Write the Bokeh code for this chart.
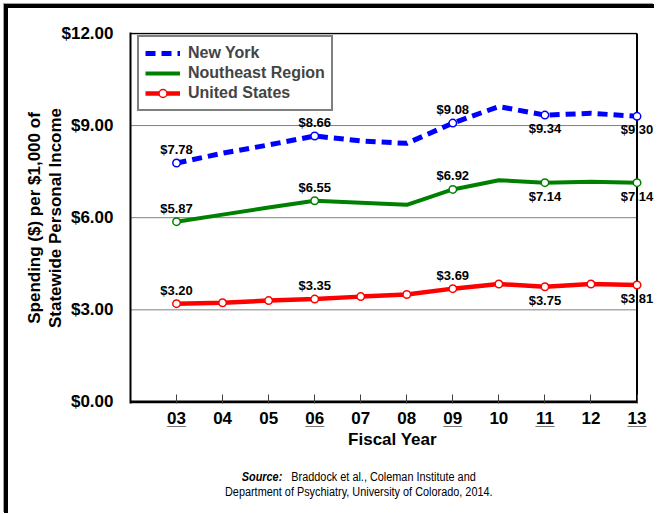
from bokeh.plotting import figure
from bokeh.models import (Range1d, FixedTicker, ColumnDataSource, Legend, LegendItem, Div)
from bokeh.layouts import column
from bokeh.core.properties import value
from bokeh.embed import file_html
from bokeh.resources import INLINE

# ---------------- data ----------------
years = [3, 4, 5, 6, 7, 8, 9, 10, 11, 12, 13]
year_labels = ["03", "04", "05", "06", "07", "08", "09", "10", "11", "12", "13"]
underlined_years = [3, 6, 9, 11, 13]
new_york = [7.78, 8.10, 8.37, 8.66, 8.50, 8.42, 9.08, 9.62, 9.34, 9.40, 9.30]
northeast = [5.87, 6.10, 6.33, 6.55, 6.49, 6.42, 6.92, 7.22, 7.14, 7.17, 7.14]
united_states = [3.20, 3.23, 3.30, 3.35, 3.43, 3.50, 3.69, 3.84, 3.75, 3.84, 3.81]
labeled_idx = [0, 3, 6, 8, 10]
label_above = [True, True, True, False, False]
y_ticks = [0, 3, 6, 9, 12]
y_tick_labels = ["$0.00", "$3.00", "$6.00", "$9.00", "$12.00"]

FONT = "Liberation Sans"
X0 = years[0] - 1          # left edge of the plotting area (fiscal year 02)
X1 = years[-1]             # right edge (fiscal year 13)

p = figure(width=646, height=460, output_backend="svg", toolbar_location=None,
           x_range=Range1d(X0, 13.38), y_range=Range1d(-0.05, 12.03),
           min_border_left=122, min_border_right=0, min_border_top=24,
           min_border_bottom=65)
p.outline_line_color = None
p.grid.visible = False

# frame pieces limited to fiscal years 02..13
grid_y = y_ticks[1:-1]
p.segment(x0=[X0] * len(grid_y), x1=[X1] * len(grid_y), y0=grid_y, y1=grid_y,
          line_color="#808080", line_width=1)
p.segment(x0=[X0], x1=[X1], y0=[y_ticks[-1]], y1=[y_ticks[-1]],
          line_color="black", line_width=1.5)
p.segment(x0=[X1], x1=[X1], y0=[y_ticks[0]], y1=[y_ticks[-1]],
          line_color="black", line_width=2)
p.segment(x0=[X0], x1=[X1], y0=[y_ticks[0]], y1=[y_ticks[0]],
          line_color="black", line_width=3)

# x axis; underline drawn as a second, overlapping label line of "_"
xa = p.xaxis[0]
xa.ticker = FixedTicker(ticks=years)
xa.major_label_overrides = {
    y: lab + "\n" + ("_" * len(lab) if y in underlined_years else " ")
    for y, lab in zip(years, year_labels)}
xa.major_label_text_line_height = 0.1
xa.major_tick_in = 9
xa.major_tick_out = 0
xa.major_tick_line_color = "#404040"
xa.minor_tick_line_color = None
xa.axis_line_color = None
xa.major_label_text_font = FONT
xa.major_label_text_font_style = "bold"
xa.major_label_text_font_size = "17px"
xa.major_label_text_color = "black"
xa.major_label_standoff = 5
xa.axis_label = "Fiscal Year"
xa.axis_label_text_font = FONT
xa.axis_label_text_font_style = "bold"
xa.axis_label_text_font_size = "17px"
xa.axis_label_text_color = "black"
xa.axis_label_standoff = -2

# y axis
ya = p.yaxis[0]
ya.ticker = FixedTicker(ticks=y_ticks)
ya.major_label_overrides = {t: s for t, s in zip(y_ticks, y_tick_labels)}
ya.major_tick_in = 0
ya.major_tick_out = 0
ya.minor_tick_line_color = None
ya.axis_line_width = 2
ya.axis_line_color = "black"
ya.major_label_text_font = FONT
ya.major_label_text_font_style = "bold"
ya.major_label_text_font_size = "17px"
ya.major_label_text_color = "black"
ya.major_label_standoff = 17
ya.axis_label = "Spending ($) per $1,000 of\nStatewide Personal Income"
ya.axis_label_text_font = FONT
ya.axis_label_text_font_style = "bold"
ya.axis_label_text_font_size = "17px"
ya.axis_label_text_color = "black"
ya.axis_label_text_line_height = 1.1
ya.axis_label_standoff = -6

# series
src = ColumnDataSource(dict(x=years, ny=new_york, ne=northeast, us=united_states))
ny_line = p.line("x", "ny", source=src, line_color="#0000FF", line_width=5,
                 line_dash="10 6")
ne_line = p.line("x", "ne", source=src, line_color="#008000", line_width=4)
us_line = p.line("x", "us", source=src, line_color="#FF0000", line_width=4.5)

sub = ColumnDataSource(dict(
    x=[years[i] for i in labeled_idx],
    ny=[new_york[i] for i in labeled_idx],
    ne=[northeast[i] for i in labeled_idx],
))
p.scatter("x", "ny", source=sub, size=7.5, fill_color="white",
          line_color="#0000FF", line_width=1.5)
p.scatter("x", "ne", source=sub, size=7.5, fill_color="white",
          line_color="#008000", line_width=1.5)
us_pts = p.scatter("x", "us", source=src, size=7.5, fill_color="white",
                   line_color="#FF0000", line_width=1.5)

# value labels
for series in (new_york, northeast, united_states):
    for above in (True, False):
        idx = [i for i, a in zip(labeled_idx, label_above) if a == above]
        ls = ColumnDataSource(dict(
            x=[years[i] for i in idx],
            y=[series[i] for i in idx],
            t=["$%.2f" % series[i] for i in idx]))
        p.text("x", "y", text="t", source=ls, text_align="center",
               text_baseline="bottom" if above else "top",
               y_offset=-6 if above else 6,
               text_font=value(FONT), text_font_style="bold",
               text_font_size="13px", text_color="black")

legend = Legend(items=[
    LegendItem(label="New York", renderers=[ny_line]),
    LegendItem(label="Noutheast Region", renderers=[ne_line]),
    LegendItem(label="United States", renderers=[us_line, us_pts]),
], location=(7, 292))
legend.padding = 6
legend.spacing = 0
legend.margin = 0
legend.glyph_width = 35
legend.glyph_height = 20
legend.label_height = 20
legend.label_standoff = 8
legend.label_text_font = FONT
legend.label_text_font_style = "bold"
legend.label_text_font_size = "16px"
legend.border_line_color = "black"
legend.border_line_width = 2
legend.background_fill_alpha = 1
p.add_layout(legend)

note = Div(
    text=('<div style="transform: scaleX(0.87); transform-origin: 50% 50%;">'
          '<b><i>Source:</i></b>&nbsp;&nbsp; Braddock et al., Coleman Institute and<br>'
          'Department of Psychiatry, University of Colorado, 2014.</div>'),
    width=590, height=45, margin=(0, 0, 0, 56),
    styles={"text-align": "center", "font-family": FONT,
            "font-size": "12.5px", "line-height": "15px", "padding-top": "2px",
            "color": "black"})

layout = column(p, note,
                styles={"border-left": "4px solid black", "border-top": "4px solid black",
                        "margin-left": "4px", "margin-top": "4px",
                        "box-shadow": "-1px -1px 0 #a0a0a0"})

open("out.html", "w").write(file_html(layout, INLINE))
